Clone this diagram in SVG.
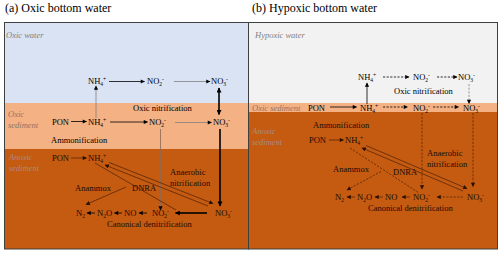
<svg xmlns="http://www.w3.org/2000/svg" width="500" height="255" viewBox="0 0 500 255">
<style>
text{font-family:"Liberation Serif","Times New Roman",serif;font-size:8.5px;fill:#000}
.title{font-size:12px}
.lab{font-style:italic;fill:#7f7f7f}
.labs{font-style:italic;fill:#8c7566}
.laba{font-style:italic;fill:#a88c80}
.dk{fill:#1a0d05}
.sb{font-size:5.5px}
.ln{fill:none;stroke:#000;stroke-width:0.8}
.gr{fill:none;stroke:#808080;stroke-width:0.8}
.br{fill:none;stroke:#8a6a55;stroke-width:0.8}
.bd{fill:none;stroke:#4a2005;stroke-width:0.7}
.dsh{stroke-dasharray:2.2 1.4}
.th{fill:none;stroke:#000;stroke-width:1.6}
.frame{fill:none;stroke:#404040;stroke-width:1}
</style>
<defs>
<marker id="a" viewBox="0 0 10 10" refX="9" refY="5" markerWidth="5" markerHeight="4.2" markerUnits="userSpaceOnUse" orient="auto-start-reverse"><path d="M0,0 L10,5 L0,10 z" fill="#000"/></marker>
<marker id="ab" viewBox="0 0 10 10" refX="9" refY="5" markerWidth="5" markerHeight="4.2" markerUnits="userSpaceOnUse" orient="auto-start-reverse"><path d="M0,0 L10,5 L0,10 z" fill="#2a1000"/></marker>
<marker id="at" viewBox="0 0 10 10" refX="9" refY="5" markerWidth="6" markerHeight="5" markerUnits="userSpaceOnUse" orient="auto-start-reverse"><path d="M0,0 L10,5 L0,10 z" fill="#000"/></marker>
</defs>

<!-- backgrounds -->
<g id="panel-a-bg">
<rect x="4.5" y="22.5" width="244" height="80.5" fill="#dae3f3"/>
<rect x="4.5" y="103" width="244" height="46" fill="#f4b183"/>
<rect x="4.5" y="149" width="244" height="100" fill="#c55a11"/>
<rect class="frame" x="4.5" y="22.5" width="244" height="226.5"/>
</g>
<g id="panel-b-bg">
<rect x="248.5" y="22.5" width="249" height="80.5" fill="#f2f2f2"/>
<rect x="248.5" y="103" width="249" height="9" fill="#f4b183"/>
<rect x="248.5" y="112" width="249" height="137" fill="#c55a11"/>
<rect class="frame" x="248.5" y="22.5" width="249" height="226.5"/>
</g>

<text class="title" x="5" y="12">(a) Oxic bottom water</text>
<text class="title" x="252" y="12">(b) Hypoxic bottom water</text>

<!-- zone labels -->
<text class="lab" x="6" y="38">Oxic water</text>
<text class="labs" x="8" y="117">Oxic</text>
<text class="labs" x="8" y="127.5">sediment</text>
<text class="laba" x="9" y="160">Anoxic</text>
<text class="laba" x="9" y="170.5">sediment</text>
<text class="lab" x="255" y="38">Hypoxic water</text>
<text class="labs" x="252" y="110.5">Oxic sediment</text>
<text class="laba" x="252" y="134">Anoxic</text>
<text class="laba" x="252" y="145">sediment</text>

<!-- process labels -->
<text x="133" y="111">Oxic nitrification</text>
<text x="51" y="143">Ammonification</text>
<text class="dk" x="170" y="175">Anaerobic</text>
<text class="dk" x="170" y="185.5">nitrification</text>
<text class="dk" x="75" y="191">Anammox</text>
<text class="dk" x="132" y="191">DNRA</text>
<text class="dk" x="107" y="227">Canonical denitrification</text>
<text x="394" y="94">Oxic nitrification</text>
<text class="dk" x="313" y="127.5">Ammonification</text>
<text class="dk" x="427" y="156">Anaerobic</text>
<text class="dk" x="427" y="167">nitrification</text>
<text class="dk" x="333" y="172">Anammox</text>
<text class="dk" x="393" y="175">DNRA</text>
<text class="dk" x="368" y="211">Canonical denitrification</text>

<!-- nodes panel a -->
<g id="a-w-nh4"><text x="88" y="84">NH<tspan class="sb" dy="2">4</tspan><tspan class="sb" dy="-5">+</tspan></text></g>
<g id="a-w-no2"><text x="147" y="84">NO<tspan class="sb" dy="2">2</tspan><tspan class="sb" dy="-5">-</tspan></text></g>
<g id="a-w-no3"><text x="211" y="84">NO<tspan class="sb" dy="2">3</tspan><tspan class="sb" dy="-5">-</tspan></text></g>
<g id="a-s-pon"><text x="52" y="124.5">PON</text></g>
<g id="a-s-nh4"><text x="88" y="124.5">NH<tspan class="sb" dy="2">4</tspan><tspan class="sb" dy="-5">+</tspan></text></g>
<g id="a-s-no2"><text x="149" y="125">NO<tspan class="sb" dy="2">2</tspan><tspan class="sb" dy="-5">-</tspan></text></g>
<g id="a-s-no3"><text x="213" y="125">NO<tspan class="sb" dy="2">3</tspan><tspan class="sb" dy="-5">-</tspan></text></g>
<g id="a-x-pon"><text class="dk" x="52" y="160.5">PON</text></g>
<g id="a-x-nh4"><text class="dk" x="88" y="160.5">NH<tspan class="sb" dy="2">4</tspan><tspan class="sb" dy="-5">+</tspan></text></g>
<g id="a-x-n2"><text class="dk" x="76" y="216">N<tspan class="sb" dy="2">2</tspan></text></g>
<g id="a-x-n2o"><text class="dk" x="97" y="216">N<tspan class="sb" dy="2">2</tspan><tspan dy="-2">O</tspan></text></g>
<g id="a-x-no"><text class="dk" x="124" y="216">NO</text></g>
<g id="a-x-no2"><text class="dk" x="152" y="216">NO<tspan class="sb" dy="2">2</tspan><tspan class="sb" dy="-5">-</tspan></text></g>
<g id="a-x-no3"><text class="dk" x="215" y="216">NO<tspan class="sb" dy="2">3</tspan><tspan class="sb" dy="-5">-</tspan></text></g>

<!-- nodes panel b -->
<g id="b-w-nh4"><text x="358" y="80">NH<tspan class="sb" dy="2">4</tspan><tspan class="sb" dy="-5">+</tspan></text></g>
<g id="b-w-no2"><text x="413" y="80">NO<tspan class="sb" dy="2">2</tspan><tspan class="sb" dy="-5">-</tspan></text></g>
<g id="b-w-no3"><text x="458" y="80">NO<tspan class="sb" dy="2">3</tspan><tspan class="sb" dy="-5">-</tspan></text></g>
<g id="b-s-pon"><text x="308" y="110.5">PON</text></g>
<g id="b-s-nh4"><text x="360" y="110.5">NH<tspan class="sb" dy="2">4</tspan><tspan class="sb" dy="-5">+</tspan></text></g>
<g id="b-s-no2"><text x="413" y="110.5">NO<tspan class="sb" dy="2">2</tspan><tspan class="sb" dy="-5">-</tspan></text></g>
<g id="b-s-no3"><text x="463" y="110.5">NO<tspan class="sb" dy="2">3</tspan><tspan class="sb" dy="-5">-</tspan></text></g>
<g id="b-x-pon"><text class="dk" x="309" y="143">PON</text></g>
<g id="b-x-nh4"><text class="dk" x="345" y="143">NH<tspan class="sb" dy="2">4</tspan><tspan class="sb" dy="-5">+</tspan></text></g>
<g id="b-x-n2"><text class="dk" x="335" y="200">N<tspan class="sb" dy="2">2</tspan></text></g>
<g id="b-x-n2o"><text class="dk" x="357" y="200">N<tspan class="sb" dy="2">2</tspan><tspan dy="-2">O</tspan></text></g>
<g id="b-x-no"><text class="dk" x="385" y="200">NO</text></g>
<g id="b-x-no2"><text class="dk" x="413" y="200">NO<tspan class="sb" dy="2">2</tspan><tspan class="sb" dy="-5">-</tspan></text></g>
<g id="b-x-no3"><text class="dk" x="467" y="200">NO<tspan class="sb" dy="2">3</tspan><tspan class="sb" dy="-5">-</tspan></text></g>

<g id="connectors">
<!-- panel a -->
<line class="ln" x1="109" y1="81.5" x2="144.5" y2="81.5" marker-end="url(#a)"/>
<line class="gr" x1="174" y1="81.5" x2="210" y2="81.5" marker-end="url(#a)"/>
<line class="gr" x1="96" y1="118" x2="96" y2="86" marker-end="url(#a)"/>
<line class="th" x1="219" y1="88" x2="219" y2="114.5" marker-start="url(#at)" marker-end="url(#at)"/>
<line class="ln" x1="71" y1="121.5" x2="86.5" y2="121.5" marker-end="url(#a)"/>
<line class="ln" x1="110" y1="122" x2="147.5" y2="122" marker-end="url(#a)"/>
<line class="gr" x1="175" y1="122.5" x2="211.5" y2="122.5" marker-end="url(#a)"/>
<line class="br" x1="160.5" y1="129" x2="160.5" y2="210" marker-end="url(#a)"/>
<line class="th" x1="220" y1="129" x2="220" y2="206" marker-end="url(#at)"/>
<line class="bd" x1="71" y1="158" x2="86.5" y2="158" marker-end="url(#ab)"/>
<line class="bd" x1="95" y1="163" x2="176" y2="210"/>
<line class="bd" x1="208" y1="206" x2="105" y2="165" marker-end="url(#ab)"/>
<line class="bd" x1="109" y1="162.5" x2="213" y2="203.5" marker-end="url(#ab)"/>
<line class="bd" x1="126" y1="187" x2="86" y2="204.5" marker-end="url(#ab)"/>
<line class="ln" x1="95" y1="213" x2="87" y2="213" marker-end="url(#a)"/>
<line class="ln" x1="122" y1="213" x2="114.5" y2="213" marker-end="url(#a)"/>
<line class="ln" x1="147" y1="213" x2="139" y2="213" marker-end="url(#a)"/>
<line class="th" x1="207" y1="213" x2="175.5" y2="213" marker-end="url(#at)"/>
<!-- panel b -->
<line class="ln dsh" x1="383" y1="77" x2="409" y2="77" marker-end="url(#a)"/>
<line class="ln dsh" x1="437" y1="77" x2="457" y2="77" marker-end="url(#a)"/>
<line class="ln" x1="367" y1="104" x2="367" y2="83" marker-end="url(#a)"/>
<line class="gr dsh" x1="469" y1="84" x2="469" y2="103.5" marker-end="url(#a)"/>
<line class="ln" x1="330" y1="107" x2="356.5" y2="107" marker-end="url(#a)"/>
<line class="ln dsh" x1="383" y1="107" x2="407.5" y2="107" marker-end="url(#a)"/>
<line class="ln dsh" x1="433" y1="107" x2="458.5" y2="107" marker-end="url(#a)"/>
<line class="bd dsh" x1="422" y1="113" x2="422" y2="189" marker-end="url(#ab)"/>
<line class="bd dsh" x1="473" y1="113" x2="473" y2="186.5" marker-end="url(#ab)"/>
<line class="bd" x1="329" y1="140" x2="343.5" y2="140" marker-end="url(#ab)"/>
<line class="bd" x1="463" y1="191" x2="362" y2="148" marker-end="url(#ab)"/>
<line class="bd" x1="366" y1="145.5" x2="467" y2="188.5" marker-end="url(#ab)"/>
<line class="bd dsh" x1="350" y1="148" x2="419" y2="193"/>
<line class="bd dsh" x1="381" y1="171.5" x2="347" y2="190" marker-end="url(#ab)"/>
<line class="bd" x1="355" y1="197" x2="347" y2="197" marker-end="url(#ab)"/>
<line class="bd" x1="383" y1="197" x2="375" y2="197" marker-end="url(#ab)"/>
<line class="bd" x1="410" y1="197" x2="402" y2="197" marker-end="url(#ab)"/>
<line class="bd dsh" x1="463" y1="197" x2="437" y2="197" marker-end="url(#ab)"/>
</g>
</svg>
